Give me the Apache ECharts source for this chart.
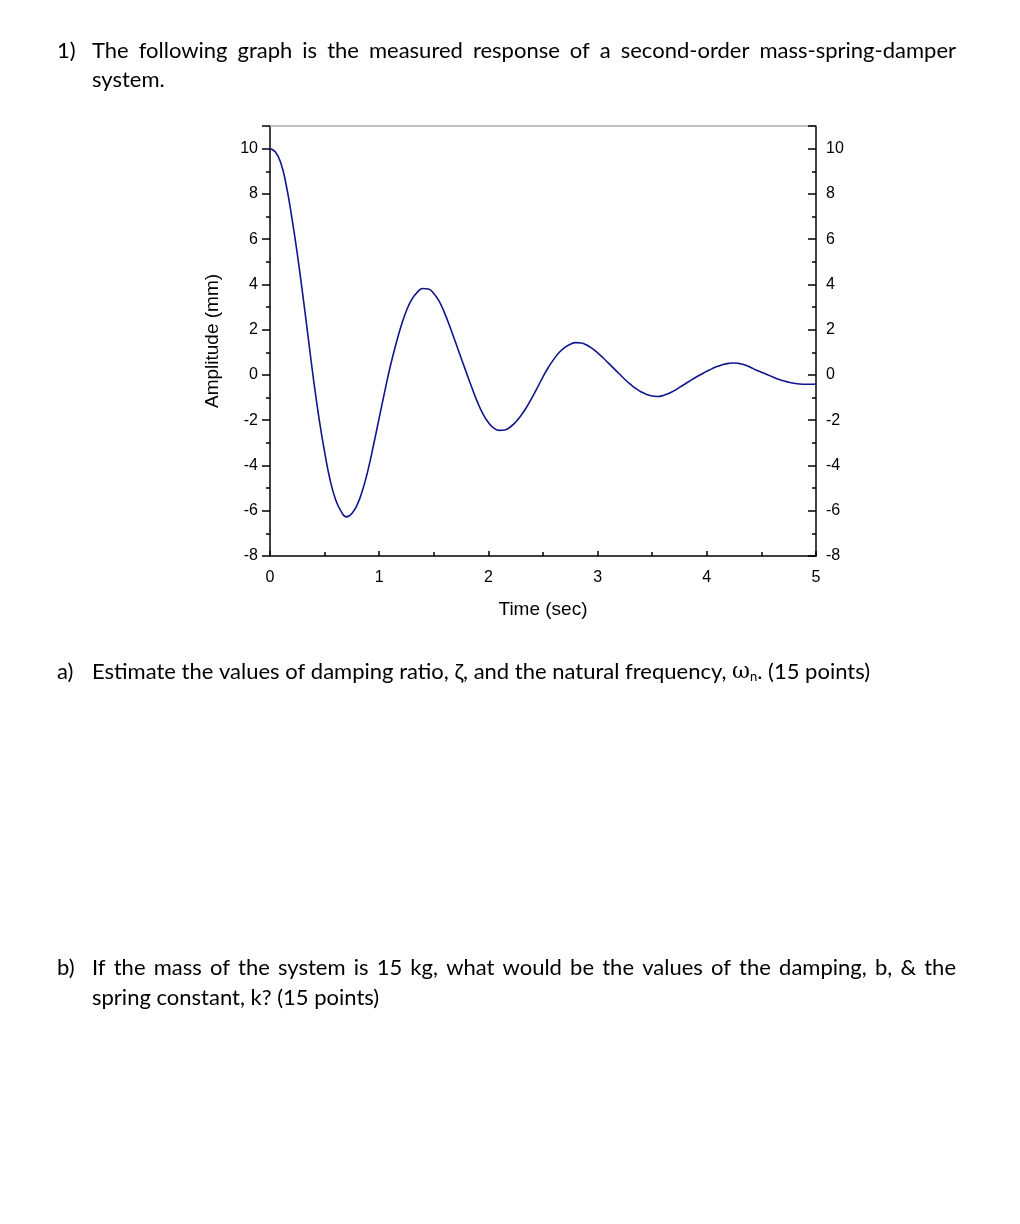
<!DOCTYPE html>
<html>
<head>
<meta charset="utf-8">
<script src="https://cdn.jsdelivr.net/npm/echarts@6/dist/echarts.min.js"></script>
<style>
html,body{margin:0;padding:0;background:#fff;}
#c{width:1020px;height:1224px;}
</style>
</head>
<body>
<div id="c"></div>
<script>
// Time (sec)
const times = [0,0.05,0.1,0.15,0.2,0.25,0.3,0.35,0.4,0.45,0.5,0.55,0.6,0.65,0.7,0.75,0.8,0.85,0.9,0.95,
  1.0,1.05,1.1,1.15,1.2,1.25,1.3,1.35,1.4,1.45,1.5,1.55,1.6,1.65,1.7,1.75,1.8,1.85,1.9,1.95,
  2.0,2.05,2.1,2.15,2.2,2.25,2.3,2.35,2.4,2.45,2.5,2.55,2.6,2.65,2.7,2.75,2.8,2.85,2.9,2.95,
  3.0,3.05,3.1,3.15,3.2,3.25,3.3,3.35,3.4,3.45,3.5,3.55,3.6,3.65,3.7,3.75,3.8,3.85,3.9,3.95,
  4.0,4.05,4.1,4.15,4.2,4.25,4.3,4.35,4.4,4.45,4.5,4.55,4.6,4.65,4.7,4.75,4.8,4.85,4.9,4.95,5.0];
// Amplitude (mm)
const amplitude = [10,9.85,9.35,8.35,6.95,5.35,3.55,1.65,-0.25,-1.95,-3.4,-4.63,-5.5,-6.02,-6.27,-6.12,-5.72,-5.05,-4.15,-3.05,
  -1.9,-0.75,0.35,1.3,2.15,2.85,3.35,3.66,3.82,3.8,3.6,3.25,2.72,2.1,1.43,0.75,0.08,-0.58,-1.2,-1.72,
  -2.1,-2.35,-2.45,-2.43,-2.3,-2.08,-1.78,-1.42,-1.0,-0.55,-0.08,0.34,0.7,1.0,1.22,1.36,1.43,1.41,1.32,1.17,
  0.98,0.76,0.52,0.28,0.04,-0.2,-0.41,-0.6,-0.75,-0.86,-0.93,-0.95,-0.91,-0.82,-0.7,-0.55,-0.4,-0.25,-0.1,0.03,
  0.16,0.28,0.38,0.46,0.51,0.53,0.5,0.44,0.34,0.22,0.12,0.02,-0.08,-0.18,-0.26,-0.32,-0.37,-0.4,-0.41,-0.41,-0.4];
const xTicks = [0,1,2,3,4,5];
const yTicks = [-8,-6,-4,-2,0,2,4,6,8,10];

const questionLines = [
  {label:'1)', text:'The following graph is the measured response of a second-order mass-spring-damper', justify:true, cy:51},
  {label:'',   text:'system.', justify:false, cy:80},
  {label:'b)', text:'If the mass of the system is 15 kg, what would be the values of the damping, b, & the', justify:true, cy:968},
  {label:'',   text:'spring constant, k? (15 points)', justify:false, cy:998}
];

const chart = echarts.init(document.getElementById('c'), null, {renderer:'canvas'});
const tickFont = {color:'#000', fontFamily:'"Liberation Sans", Arial, sans-serif', fontSize:16};
const bodyFamily = 'Lato, "Open Sans", sans-serif';
const bodySize = 22;
const bodyFont = bodySize + 'px ' + bodyFamily;

// text layout (justification of full lines)
const mctx = document.createElement('canvas').getContext('2d');
mctx.font = bodyFont;
const textLeft = 92, textRight = 956, labelLeft = 57;
const graphics = [];
questionLines.forEach(line => {
  if (line.label) graphics.push({type:'text', x:labelLeft, y:line.cy, style:{text:line.label, font:bodyFont, fill:'#000', verticalAlign:'middle'}});
  if (!line.justify) {
    graphics.push({type:'text', x:textLeft, y:line.cy, style:{text:line.text, font:bodyFont, fill:'#000', verticalAlign:'middle'}});
  } else {
    const words = line.text.split(' ');
    const widths = words.map(w => mctx.measureText(w).width);
    const total = widths.reduce((a,b)=>a+b,0);
    const gap = (textRight - textLeft - total) / (words.length - 1);
    let x = textLeft;
    words.forEach((w,i) => {
      graphics.push({type:'text', x:x, y:line.cy, style:{text:w, font:bodyFont, fill:'#000', verticalAlign:'middle'}});
      x += widths[i] + gap;
    });
  }
});
graphics.push({type:'text', x:labelLeft, y:672, style:{text:'a)', font:bodyFont, fill:'#000', verticalAlign:'middle'}});
graphics.push({type:'text', x:textLeft, y:672, style:{
  text:'{a|Estimate the values of damping ratio, ζ, and the natural frequency, }{w|ω}{s|n}{a|. (15 points)}',
  verticalAlign:'middle',
  rich:{
    a:{fontSize:bodySize, fontFamily:bodyFamily, fill:'#000'},
    w:{fontSize:bodySize, fontFamily:'"DejaVu Serif", serif', fill:'#000'},
    s:{fontSize:13, fontFamily:bodyFamily, fill:'#000', padding:[9,0,0,0]}
  }
}});

chart.setOption({
  animation:false,
  backgroundColor:'#fff',
  grid:{left:270, top:126, width:546, height:430, containLabel:false},
  xAxis:[{
    type:'value', min:xTicks[0], max:xTicks[xTicks.length-1], interval:1,
    name:'Time (sec)', nameLocation:'middle', nameGap:44,
    nameTextStyle:{color:'#000', fontFamily:'"Liberation Sans", Arial, sans-serif', fontSize:19},
    axisLine:{onZero:false, lineStyle:{color:'#000', width:1.5}},
    axisTick:{inside:true, length:5, lineStyle:{color:'#000', width:1.5}},
    minorTick:{show:true, splitNumber:2, length:4, lineStyle:{color:'#000', width:1.5}},
    axisLabel:Object.assign({margin:14}, tickFont),
    splitLine:{show:false}
  },{
    type:'value', position:'top', min:0, max:5,
    axisLine:{show:true, onZero:false, lineStyle:{color:'#aaa', width:1.5}},
    axisTick:{show:false}, axisLabel:{show:false}, splitLine:{show:false}
  }],
  yAxis:[{
    type:'value', min:yTicks[0], max:11, interval:2, position:'left',
    name:'Amplitude (mm)', nameLocation:'middle', nameGap:48,
    nameTextStyle:{color:'#000', fontFamily:'"Liberation Sans", Arial, sans-serif', fontSize:19},
    axisLine:{onZero:false, lineStyle:{color:'#000', width:1.5}},
    axisTick:{inside:false, length:8, lineStyle:{color:'#000', width:1.5}},
    minorTick:{show:true, splitNumber:2, length:4, lineStyle:{color:'#000', width:1.5}},
    axisLabel:Object.assign({margin:12, showMaxLabel:false}, tickFont),
    splitLine:{show:false}
  },{
    type:'value', min:yTicks[0], max:11, interval:2, position:'right',
    axisLine:{show:true, onZero:false, lineStyle:{color:'#000', width:1.5}},
    axisTick:{show:true, inside:true, length:8, lineStyle:{color:'#000', width:1.5}},
    minorTick:{show:true, splitNumber:2, length:4, lineStyle:{color:'#000', width:1.5}},
    axisLabel:Object.assign({margin:10, showMaxLabel:false}, tickFont),
    splitLine:{show:false}
  }],
  series:[{
    type:'line', xAxisIndex:0, yAxisIndex:0, smooth:true, showSymbol:false,
    lineStyle:{color:'#10168a', width:1.6},
    data: times.map((t,i)=>[t, amplitude[i]])
  }],
  graphic: graphics
});
</script>
</body>
</html>
